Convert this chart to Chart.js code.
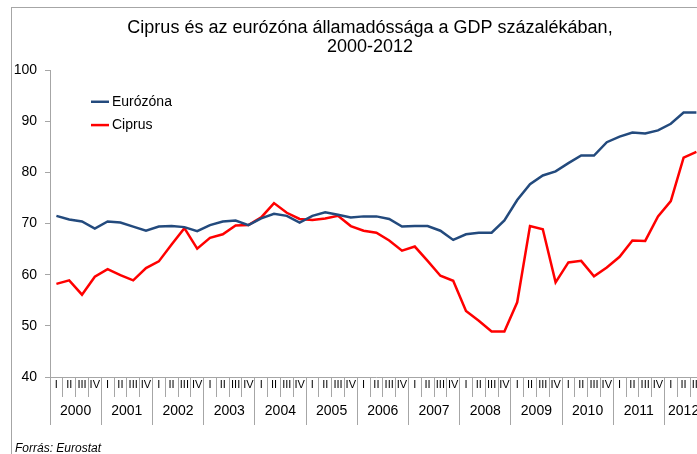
<!DOCTYPE html>
<html>
<head>
<meta charset="utf-8">
<script src="https://cdn.jsdelivr.net/npm/chart.js@4/dist/chart.umd.min.js"></script>
<style>
  html, body { margin: 0; padding: 0; overflow: hidden; background: #fff; width: 697px; height: 454px; }
  #wrap { position: absolute; left: 0; top: 0; width: 740px; height: 470px; }
  #frame { position: absolute; left: 11px; top: 7px; width: 718px; height: 500px; border: 1px solid #a6a6a6; pointer-events: none; }
  #src { position: absolute; left: 15px; top: 441px; font: italic 12px "Liberation Sans", Arial, sans-serif; color: #000; }
</style>
</head>
<body>
<div id="wrap"><canvas id="c" width="740" height="470"></canvas></div>
<div id="frame"></div>
<div id="src">Forrás: Eurostat</div>
<script>
const titleLines = ["Ciprus és az eurózóna államadóssága a GDP százalékában,", "2000-2012"];
const years = ["2000","2001","2002","2003","2004","2005","2006","2007","2008","2009","2010","2011","2012"];
const quarters = ["I","II","III","IV"];
const yTicks = [40, 50, 60, 70, 80, 90, 100];
const seriesNames = ["Eurózóna", "Ciprus"];

// quarterly values, 2000 Q1 ... 2012 Q3
const eurozone = [71.5, 70.8, 70.4, 69.0, 70.4, 70.2, 69.4, 68.6, 69.4, 69.5, 69.3, 68.5,
                  69.7, 70.4, 70.6, 69.7, 71.0, 71.9, 71.5, 70.2, 71.5, 72.2, 71.7, 71.2,
                  71.4, 71.4, 70.9, 69.4, 69.5, 69.5, 68.6, 66.8, 67.9, 68.2, 68.2, 70.6,
                  74.6, 77.7, 79.4, 80.2, 81.8, 83.3, 83.3, 85.9, 87.0, 87.8, 87.6, 88.2,
                  89.5, 91.7, 91.7];
const cyprus   = [58.2, 58.9, 56.1, 59.6, 61.1, 59.9, 58.9, 61.3, 62.6, 65.9, 69.1, 65.1,
                  67.2, 67.9, 69.6, 69.7, 71.2, 74.0, 72.1, 70.9, 70.7, 71.0, 71.5, 69.5,
                  68.6, 68.2, 66.7, 64.7, 65.5, 62.7, 59.8, 58.8, 52.9, 51.0, 48.9, 48.9,
                  54.6, 69.5, 68.9, 58.5, 62.4, 62.7, 59.7, 61.4, 63.5, 66.7, 66.6, 71.4,
                  74.4, 82.9, 84.0];

const colors = ["#234a7d", "#ff0000"];
const FONT = "'Liberation Sans', Arial, sans-serif";
const AXIS = "#a6a6a6";

// categories: one per quarter that has data
const categories = [];
years.forEach(y => quarters.forEach(q => categories.push(y + " " + q)));
categories.length = eurozone.length;
const nQ = categories.length;

// year group boundaries on the quarter index scale
const yearStarts = years.map((y, i) => i * 4);
const yearEnds = years.map((y, i) => Math.min(i * 4 + 4, nQ));

const legendPlugin = {
  id: "innerLegend",
  afterDraw(chart) {
    const ctx = chart.ctx, a = chart.chartArea;
    ctx.save();
    chart.data.datasets.forEach((ds, i) => {
      const y = a.top + 31.7 + i * 23.3;
      const x = a.left + 41;
      ctx.strokeStyle = ds.borderColor;
      ctx.lineWidth = 2.5;
      ctx.beginPath(); ctx.moveTo(x, y); ctx.lineTo(x + 18, y); ctx.stroke();
      ctx.fillStyle = "#000";
      ctx.font = "14px " + FONT;
      ctx.textBaseline = "middle";
      ctx.textAlign = "left";
      ctx.fillText(ds.label, x + 21, y + 0.5);
    });
    ctx.restore();
  }
};

new Chart(document.getElementById("c"), {
  type: "line",
  data: {
    labels: categories,
    datasets: [
      { label: seriesNames[0], data: eurozone, borderColor: colors[0], backgroundColor: colors[0],
        borderWidth: 2.5, pointRadius: 0, tension: 0, xAxisID: "x", yAxisID: "y" },
      { label: seriesNames[1], data: cyprus, borderColor: colors[1], backgroundColor: colors[1],
        borderWidth: 2.5, pointRadius: 0, tension: 0, xAxisID: "x", yAxisID: "y" }
    ]
  },
  options: {
    responsive: false,
    animation: false,
    events: [],
    layout: { padding: { left: 0, right: 0, top: 0, bottom: 45 } },
    plugins: {
      legend: { display: false },
      tooltip: { enabled: false },
      title: {
        display: true,
        text: titleLines,
        color: "#000",
        font: { family: FONT, size: 18, weight: "normal", lineHeight: 1.03 },
        padding: { top: 19, bottom: 14 }
      }
    },
    scales: {
      x: {
        type: "category",
        position: "bottom",
        weight: 0,
        offset: true,
        grid: { offset: true, drawOnChartArea: false, drawTicks: true, tickLength: 20, color: AXIS, lineWidth: 1 },
        border: { display: true, color: AXIS, width: 1 },
        ticks: {
          autoSkip: false, maxRotation: 0, minRotation: 0, padding: -19,
          color: "#000", font: { family: FONT, size: 11 },
          callback: (v, i) => quarters[i % 4]
        },
        afterFit: s => { s.height = 20; }
      },
      x2: {
        type: "linear",
        position: "bottom",
        weight: 1,
        min: 0,
        max: nQ,
        offset: false,
        afterBuildTicks: s => {
          const t = [];
          years.forEach((y, i) => {
            t.push({ value: yearStarts[i], kind: "sep" });
            t.push({ value: (yearStarts[i] + yearEnds[i]) / 2, kind: "label", label: y });
          });
          t.push({ value: nQ, kind: "sep" });
          s.ticks = t;
        },
        grid: {
          drawOnChartArea: false, drawTicks: true, tickLength: 28, lineWidth: 1,
          color: ctx => (ctx.tick && ctx.tick.kind === "sep") ? AXIS : "rgba(0,0,0,0)"
        },
        border: { display: false },
        ticks: {
          autoSkip: false, maxRotation: 0, minRotation: 0, padding: -22,
          color: "#000", font: { family: FONT, size: 14 },
          callback: function (v, i, ticks) { return ticks[i].kind === "label" ? ticks[i].label : ""; }
        },
        afterFit: s => { s.height = 28; }
      },
      y: {
        type: "linear",
        min: yTicks[0],
        max: yTicks[yTicks.length - 1],
        afterBuildTicks: s => { s.ticks = yTicks.map(v => ({ value: v })); },
        grid: { drawOnChartArea: false, drawTicks: true, tickLength: 5, color: AXIS },
        border: { display: true, color: AXIS, width: 1 },
        ticks: { padding: 8, color: "#000", font: { family: FONT, size: 14 } },
        afterFit: s => { s.width = 50; }
      },
      yRightSpace: {
        type: "linear",
        position: "right",
        display: true,
        grid: { display: false, drawTicks: false },
        border: { display: false },
        ticks: { display: false },
        afterFit: s => { s.width = 37.2; }
      }
    }
  },
  plugins: [legendPlugin]
});
</script>
</body>
</html>
